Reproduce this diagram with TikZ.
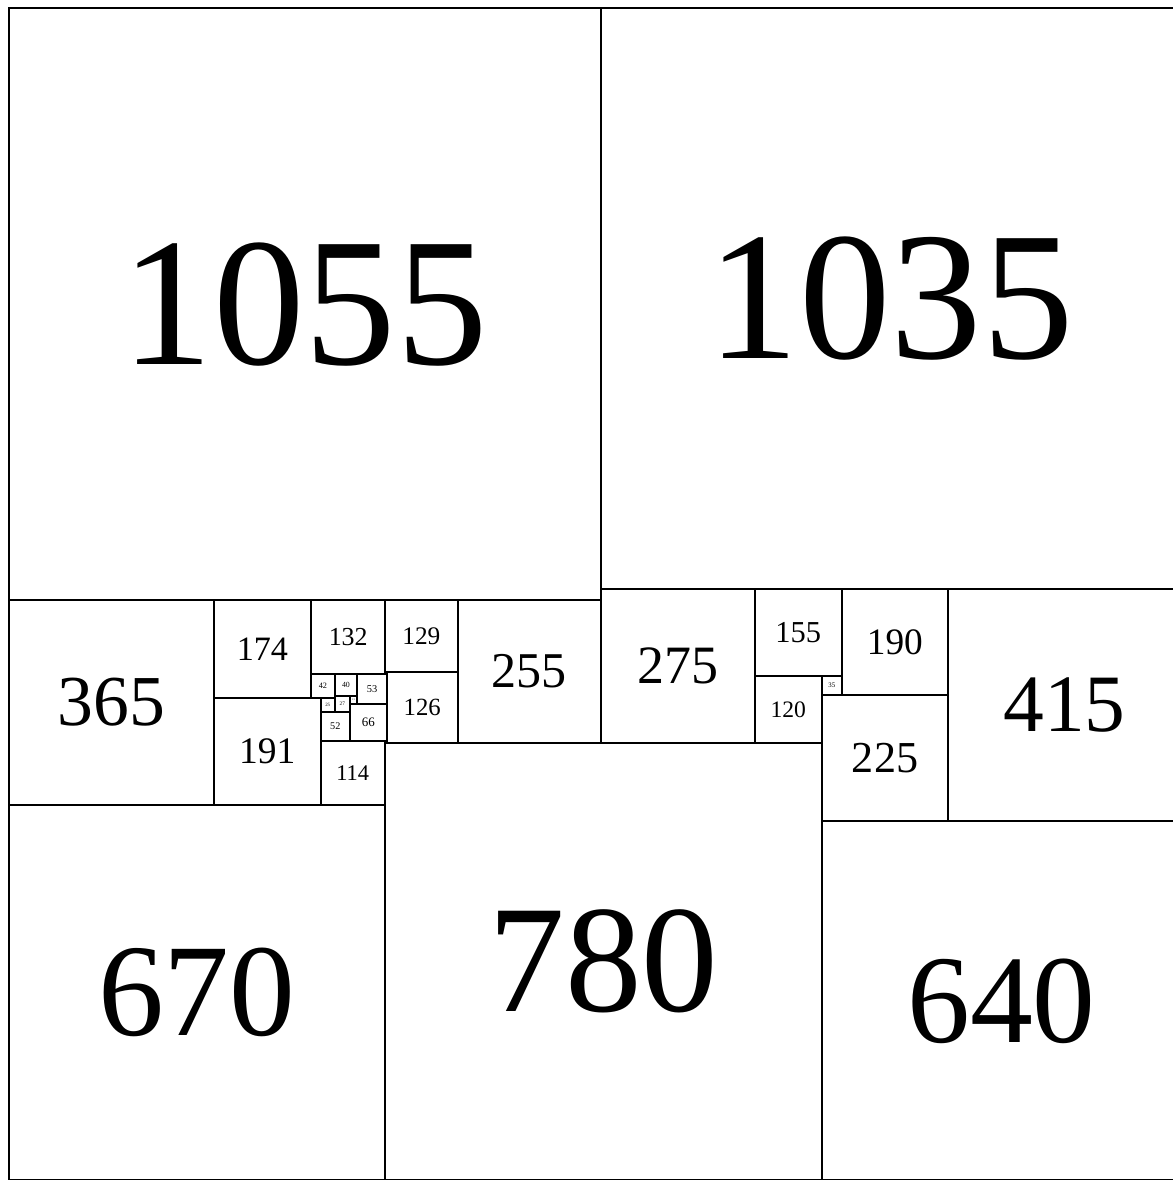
\documentclass[tikz,border=0pt]{standalone}
\usepackage{fontspec}
\setmainfont{Liberation Serif}
\usetikzlibrary{positioning}

\newcommand{\sqfont}[1]{\fontsize{\fpeval{#1*0.35*0.28453}pt}{\fpeval{#1*0.35*0.28453}pt}\selectfont}

\begin{document}
\begin{tikzpicture}[
    x=0.01cm, y=-0.01cm,
    sq/.style={
        draw=black, line width=1pt, inner sep=0pt, minimum size=#1*0.01cm,
        font=\sqfont{#1}
    },
    wide/.style={font=\sqfont{932}}
]

\useasboundingbox (-16,-15) rectangle (2076,2089.5);

\node[sq=1055, wide] (s1055) at (527.5, 527.5) {1055};

\node[sq=1035, wide] (s1035) at (1572.5, 517.5) {1035};

\node[sq=365] (s365) at (182.5, 1237.5) {365};

\node[sq=670] (s670) at (335, 1755) {670};

\node[sq=780] (s780) at (1060, 1700) {780};

\node[sq=640] (s640) at (1770, 1770) {640};

\node[sq=415] (s415) at (1882.5, 1242.5) {415};

\node[sq=225] (s225) at (1562.5, 1337.5) {225};

\node[sq=190] (s190) at (1580, 1130) {190};

\node[sq=35] (s35) at (1467.5, 1207.5) {35};

\node[sq=155] (s155) at (1407.5, 1112.5) {155};

\node[sq=120] (s120) at (1390, 1250) {120};

\node[sq=275] (s275) at (1192.5, 1172.5) {275};

\node[sq=255] (s255) at (927.5, 1182.5) {255};

\node[sq=129] (s129) at (735.5, 1119.5) {129};

\node[sq=126] (s126) at (737, 1247) {126};

\node[sq=132] (s132) at (605, 1121) {132};

\node[sq=174] (s174) at (452, 1142) {174};

\node[sq=191] (s191) at (460.5, 1324.5) {191};

\node[sq=114] (s114) at (613, 1363) {114};

\node[sq=42] (s42) at (560, 1208) {42};

\node[sq=40] (s40) at (601, 1207) {40};

\node[sq=53] (s53) at (647.5, 1213.5) {53};

\node[sq=3] (s3) at (672.5, 1185.5) {};

\node[sq=4] (s4) at (672, 1308) {};

\node[sq=25] (s25) at (568.5, 1241.5) {25};

\node[sq=27] (s27) at (594.5, 1240.5) {27};

\node[sq=13] (s13) at (614.5, 1233.5) {13};

\node[sq=52] (s52) at (582, 1280) {52};

\node[sq=66] (s66) at (641, 1273) {66};

\end{tikzpicture}
\end{document}
